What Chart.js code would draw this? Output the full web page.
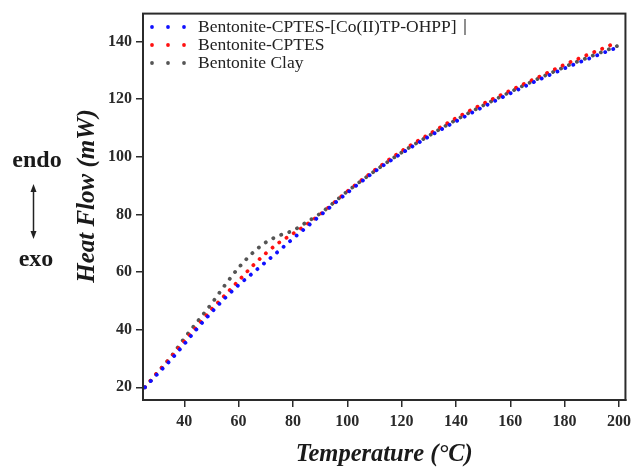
<!DOCTYPE html>
<html>
<head>
<meta charset="utf-8">
<script src="https://cdn.jsdelivr.net/npm/chart.js@4"></script>
<style>
  html, body { margin: 0; padding: 0; background: #fff; }
  #wrap { width: 636px; height: 467px; }
</style>
</head>
<body>
<div id="wrap"><canvas id="dscChart" width="636" height="467"></canvas></div>
<script>
// temperature (°C) and heat flow (mW)
const temps = [25.5, 30, 35, 40, 45, 50, 55, 60, 65, 70, 75, 80, 85, 90, 100, 110, 120, 130, 140, 150, 160, 170, 180, 190, 199.5];
const coTpVals = [20, 24.5, 29.5, 35, 40.7, 46, 51, 55.5, 59.5, 63.5, 67.5, 71.6, 75.6, 79.6, 87.5, 94.8, 101.2, 107, 112.3, 117.3, 122, 126.5, 130.7, 134.5, 138];
const cptesVals = [20, 25, 30.3, 36, 41.5, 47, 52, 57, 62, 66.5, 70.3, 73.3, 76.5, 80, 88, 95.3, 102, 107.8, 113.4, 118.4, 123, 127.5, 132, 136, 139.8];
const clayVals = [20, 25, 30.5, 37, 43, 49, 55.5, 61.5, 66.5, 70.3, 72.7, 74.4, 77.3, 80.3, 88, 95, 101.5, 107.3, 112.8, 117.8, 122.5, 127, 131.2, 135, 138.5];

const seriesNames = ['Bentonite-CPTES-[Co(II)TP-OHPP]', 'Bentonite-CPTES', 'Bentonite Clay'];
const seriesColors = ['#1010ff', '#ff1010', '#555555'];
const xTicks = [40, 60, 80, 100, 120, 140, 160, 180, 200];
const yTicks = [20, 40, 60, 80, 100, 120, 140];

const AXIS = '#2b2b2b';
const SERIF = '"Liberation Serif", "Times New Roman", serif';

function toPoints(vals) {
    return temps.map((t, i) => ({ x: t, y: vals[i] }));
}

function dottedSet(label, vals, color) {
    return {
        label: label,
        data: toPoints(vals),
        borderColor: color,
        backgroundColor: color,
        borderWidth: 3.8,
        borderDash: [0.1, 8.5],
        borderCapStyle: 'round',
        pointRadius: 0,
        cubicInterpolationMode: 'monotone',
        fill: false
    };
}

// frame, legend and the outside labels
const decorPlugin = {
    id: 'decor',
    afterDraw(chart) {
        const ctx = chart.ctx;
        const a = chart.chartArea;
        ctx.save();

        ctx.strokeStyle = AXIS;
        ctx.lineWidth = 2;
        ctx.strokeRect(a.left, a.top, a.right - a.left, a.bottom - a.top);

        // legend
        ctx.font = '17.5px ' + SERIF;
        ctx.textBaseline = 'middle';
        ctx.textAlign = 'left';
        seriesNames.forEach((name, i) => {
            const y = 27 + i * 18;
            ctx.fillStyle = seriesColors[i];
            [152, 168, 184].forEach(x => {
                ctx.beginPath();
                ctx.arc(x, y, 1.9, 0, Math.PI * 2);
                ctx.fill();
            });
            ctx.fillStyle = '#222';
            ctx.fillText(name, 198, y);
        });
        // bit of legend frame
        ctx.strokeStyle = '#444';
        ctx.lineWidth = 1.2;
        ctx.beginPath();
        ctx.moveTo(465, 19);
        ctx.lineTo(465, 35);
        ctx.stroke();

        // axis titles
        ctx.fillStyle = '#1a1a1a';
        ctx.textAlign = 'center';
        ctx.font = 'italic bold 24.5px ' + SERIF;
        ctx.fillText('Temperature (\u00B0C)', (a.left + a.right) / 2, 455);

        ctx.save();
        ctx.translate(88, 196);
        ctx.rotate(-Math.PI / 2);
        ctx.font = 'italic bold 25px ' + SERIF;
        ctx.fillText('Heat Flow (mW)', 0, 0);
        ctx.restore();

        // endo / exo marker
        ctx.font = 'bold 24px ' + SERIF;
        ctx.fillText('endo', 37, 161);
        ctx.fillText('exo', 36, 260);
        ctx.strokeStyle = '#222';
        ctx.fillStyle = '#222';
        ctx.lineWidth = 1.5;
        ctx.beginPath();
        ctx.moveTo(33.5, 189);
        ctx.lineTo(33.5, 234);
        ctx.stroke();
        ctx.beginPath();
        ctx.moveTo(33.5, 184); ctx.lineTo(30.5, 192); ctx.lineTo(36.5, 192); ctx.closePath();
        ctx.fill();
        ctx.beginPath();
        ctx.moveTo(33.5, 239); ctx.lineTo(30.5, 231); ctx.lineTo(36.5, 231); ctx.closePath();
        ctx.fill();

        ctx.restore();
    }
};

const tickFont = { family: SERIF, size: 16, weight: 'bold' };

new Chart(document.getElementById('dscChart').getContext('2d'), {
    type: 'line',
    data: {
        datasets: [
            dottedSet(seriesNames[0], coTpVals, seriesColors[0]),
            dottedSet(seriesNames[1], cptesVals, seriesColors[1]),
            dottedSet(seriesNames[2], clayVals, seriesColors[2])
        ]
    },
    options: {
        responsive: false,
        animation: false,
        layout: { padding: { left: 0, top: 13, right: 6, bottom: 0 } },
        plugins: {
            legend: { display: false },
            tooltip: { enabled: false }
        },
        scales: {
            x: {
                type: 'linear',
                min: 24.8,
                max: 202.4,
                afterBuildTicks: (axis) => { axis.ticks = xTicks.map(v => ({ value: v })); },
                afterFit: (axis) => { axis.height = 67; },
                ticks: { color: '#2a2a2a', font: tickFont, padding: 5, maxRotation: 0 },
                grid: { drawOnChartArea: false, drawTicks: true, tickLength: 7, color: AXIS, lineWidth: 1.5 },
                border: { display: true, color: AXIS, width: 2 }
            },
            y: {
                type: 'linear',
                min: 15.6,
                max: 149.7,
                afterBuildTicks: (axis) => { axis.ticks = yTicks.map(v => ({ value: v })); },
                afterFit: (axis) => { axis.width = 143; },
                ticks: { color: '#2a2a2a', font: tickFont, padding: 4 },
                grid: { drawOnChartArea: false, drawTicks: true, tickLength: 7, color: AXIS, lineWidth: 1.5 },
                border: { display: true, color: AXIS, width: 2 }
            }
        }
    },
    plugins: [decorPlugin]
});
</script>
</body>
</html>
